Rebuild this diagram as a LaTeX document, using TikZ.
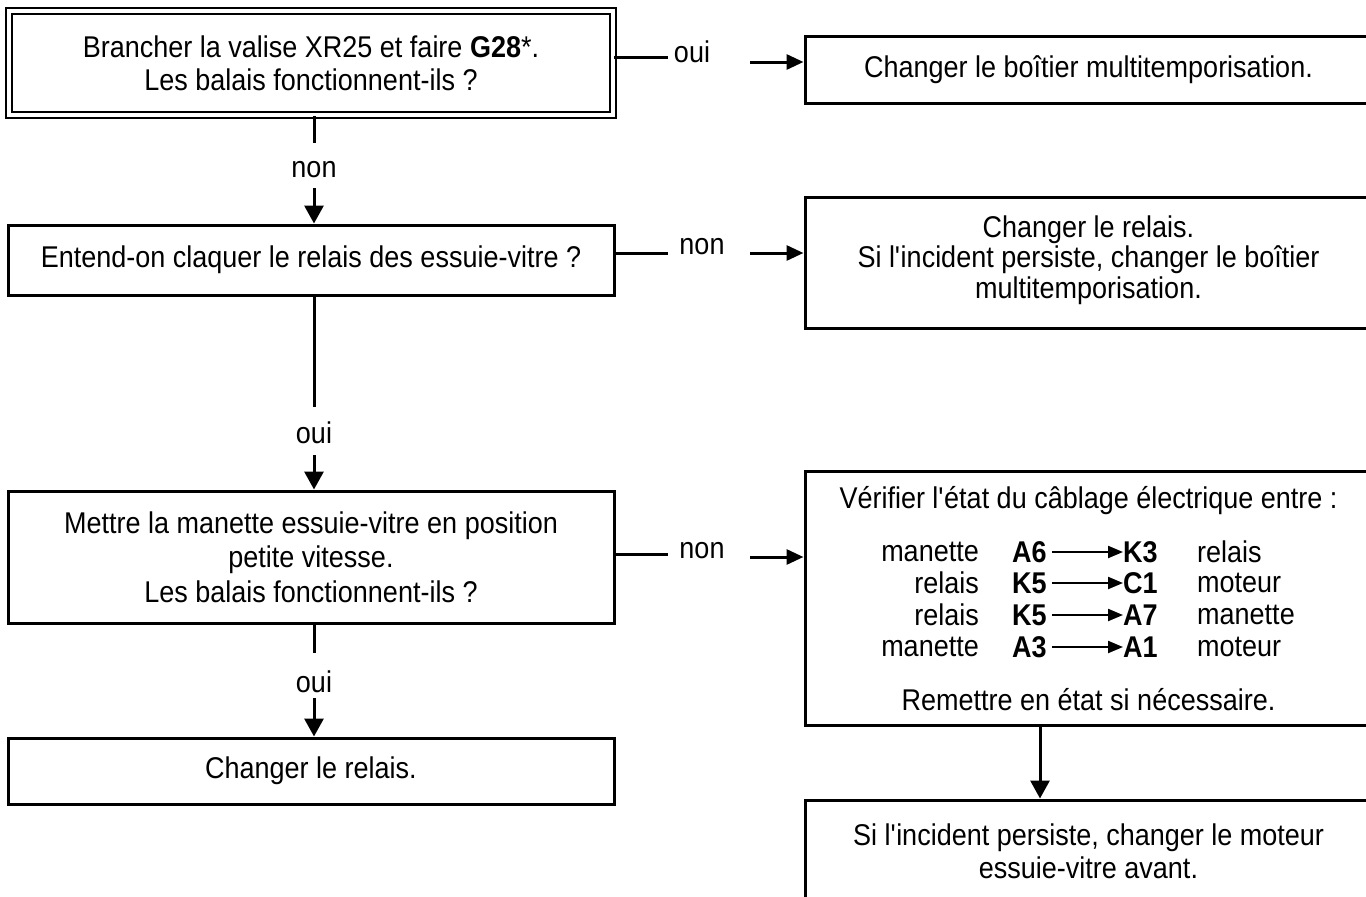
\documentclass[tikz,border=0pt]{standalone}
\usepackage{fontspec}
\setmainfont{Liberation Sans}[FakeStretch=0.9]
\usetikzlibrary{arrows.meta}
\newcommand\dfont{\fontsize{30}{33}\selectfont}
\newcommand\ap{\textquotesingle}
\begin{document}
\begin{tikzpicture}[x=1pt,y=-1pt,
  box/.style={draw, line width=3pt, inner sep=0pt, align=center, font=\dfont},
  lbl/.style={inner sep=0pt, font=\dfont},
  conn/.style={line width=3pt},
  harrow/.style={line width=3pt, -{Triangle[length=17pt,width=15pt]}},
  varrow/.style={line width=3pt, -{Triangle[length=18pt,width=19pt]}},
  tarrow/.style={line width=2.2pt, -{Triangle[length=15pt,width=12pt]}},
  cell/.style={inner sep=0pt, font=\dfont}]
\useasboundingbox (0,0) rectangle (1366,897);
\clip (0,0) rectangle (1366,897);
% left column
\node[box, double, line width=2.5pt, double distance=3.5pt, minimum width=604pt, minimum height=104pt] (b1) at (311,63)
  {Brancher la valise XR25 et faire \textbf{G28}*.\\Les balais fonctionnent-ils ?};
\node[box, minimum width=606pt, minimum height=70pt] (b2) at (311,260)
  {Entend-on claquer le relais des essuie-vitre ?};
\node[box, minimum width=606pt, minimum height=132pt, font=\fontsize{30}{34.5}\selectfont] (b3) at (311,557)
  {Mettre la manette essuie-vitre en position\\petite vitesse.\\Les balais fonctionnent-ils ?};
\node[box, minimum width=606pt, minimum height=66pt] (b4) at (311,771)
  {Changer le relais.};
% right column
\node[box, minimum width=567pt, minimum height=67pt] (r1) at (1088.5,69.5)
  {Changer le boîtier multitemporisation.};
\node[box, minimum width=567pt, minimum height=131pt] (r2) at (1088.5,262.5) {};
\node[box, draw=none, font=\fontsize{30}{30.5}\selectfont] (r2t) at (1088.5,260)
  {Changer le relais.\\Si l\ap incident persiste, changer le boîtier\\multitemporisation.};
\node[box, minimum width=567pt, minimum height=254pt] (r3) at (1088.5,598) {};
\node[box, minimum width=567pt, minimum height=102pt] (r4) at (1088.5,851)
  {Si l\ap incident persiste, changer le moteur\\essuie-vitre avant.};
% content of r3
\node[cell] (t0) at (1088.5,501) {Vérifier l\ap état du câblage électrique entre :};
\node[cell, anchor=east] (a1) at (979,552) {manette};
\node[cell, anchor=east] (a2) at (979,583) {relais};
\node[cell, anchor=east] (a3) at (979,615) {relais};
\node[cell, anchor=east] (a4) at (979,647) {manette};
\node[cell, anchor=west] (p1) at (1012,552) {\textbf{A6}};
\node[cell, anchor=west] (p2) at (1012,583) {\textbf{K5}};
\node[cell, anchor=west] (p3) at (1012,615) {\textbf{K5}};
\node[cell, anchor=west] (p4) at (1012,647) {\textbf{A3}};
\node[cell, anchor=west] (q1) at (1123,552) {\textbf{K3}};
\node[cell, anchor=west] (q2) at (1123,583) {\textbf{C1}};
\node[cell, anchor=west] (q3) at (1123,615) {\textbf{A7}};
\node[cell, anchor=west] (q4) at (1123,647) {\textbf{A1}};
\node[cell, anchor=west] (s1) at (1197,552) {relais};
\node[cell, anchor=west] (s2) at (1197,583) {moteur};
\node[cell, anchor=west] (s3) at (1197,615) {manette};
\node[cell, anchor=west] (s4) at (1197,647) {moteur};
\foreach \i in {1,2,3,4} {
  \draw[tarrow] ([xshift=5pt]p\i.east) -- (q\i.west);
}
\node[cell] (t5) at (1088.5,700) {Remettre en état si nécessaire.};
% horizontal connectors
\node[lbl] (h1) at (692,52) {oui};
\coordinate (h1a) at (668,57);
\coordinate (h1b) at (750,62);
\draw[conn] (b1.east |- h1a) -- (h1a);
\draw[harrow] (h1b) -- (h1b -| r1.west);
\node[lbl] (h2) at (702,247) {non};
\coordinate (h2a) at (668,253);
\coordinate (h2b) at (750,253);
\draw[conn] (b2.east |- h2a) -- (h2a);
\draw[harrow] (h2b) -- (h2b -| r2.west);
\node[lbl] (h3) at (702,551) {non};
\coordinate (h3a) at (668,554);
\coordinate (h3b) at (750,557);
\draw[conn] (b3.east |- h3a) -- (h3a);
\draw[harrow] (h3b) -- (h3b -| r3.west);
% vertical connectors
\node[lbl] (v1) at (314,170) {non};
\coordinate (v1a) at (314,143);
\coordinate (v1b) at (314,188);
\draw[conn] (b1.south -| v1a) -- (v1a);
\draw[varrow] (v1b) -- (v1b |- b2.north);
\node[lbl] (v2) at (314,433) {oui};
\coordinate (v2a) at (314,407);
\coordinate (v2b) at (314,455);
\draw[conn] (b2.south -| v2a) -- (v2a);
\draw[varrow] (v2b) -- (v2b |- b3.north);
\node[lbl] (v3) at (314,682) {oui};
\coordinate (v3a) at (314,653);
\coordinate (v3b) at (314,698);
\draw[conn] (b3.south -| v3a) -- (v3a);
\draw[varrow] (v3b) -- (v3b |- b4.north);
\coordinate (v4) at (1040,760);
\draw[varrow] (r3.south -| v4) -- (r4.north -| v4);
\end{tikzpicture}
\end{document}
